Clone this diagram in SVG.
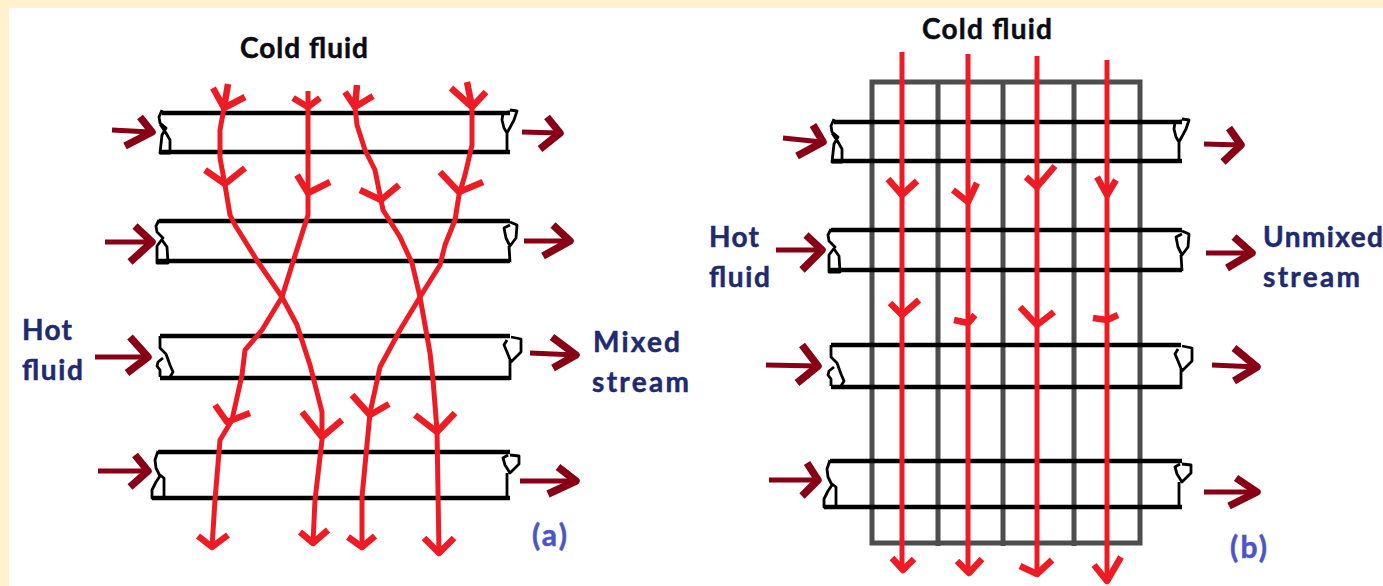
<svg xmlns="http://www.w3.org/2000/svg" xmlns:xlink="http://www.w3.org/1999/xlink" width="1383" height="586" viewBox="0 0 1383 586">
<style>
text{font-family:"Lato","Open Sans","Liberation Sans",sans-serif;font-weight:700;font-size:28px;stroke-width:.5}
.k{fill:#0b0b14;stroke:#0b0b14}.b{fill:#202a70;stroke:#202a70}.l{fill:#4b55c6;stroke:#4b55c6}
.pipe{fill:none;stroke:#000;stroke-width:4.5}
.end{fill:none;stroke:#000;stroke-width:2.8;stroke-linejoin:round}
.grid{fill:none;stroke:#4d4d4d;stroke-width:5}
.red{fill:none;stroke:#ed1c24;stroke-width:5;stroke-linejoin:round}
.redh{fill:none;stroke:#ed1c24;stroke-width:6.5;stroke-linejoin:round}
.dr{fill:none;stroke:#880015;stroke-width:5}
.drh{fill:none;stroke:#880015;stroke-width:7.5;stroke-linejoin:round}
</style>
<defs>
<g id="p1"><path class="pipe" d="M162 113H510M160 152H510"/><path class="end" d="M162 110L159 117L160 123L166 128L162 135L160 153L170 153L170 140L166 133L160 124M510 112L503 113L502 120L504 128L507 133L514 120L517 111L510 110M507 133L507 151"/></g>
<g id="p2"><path class="pipe" d="M159 221H510M157 261H510"/><path class="end" d="M159 220L156 226L157 232L163 238L157 246L157 263L168 263L167 247L162 240M510 222L517 225L516 238L510 246L506 238L504 228L510 225M509 246L510 262"/></g>
<g id="p3"><path class="pipe" d="M160 336H510M160 378H510"/><path class="end" d="M160 336V348L166 354L170 365L173 372L170 377M160 377V370L157 366L158 362L163 358M511 337L521 339L521 352L511 362L507 352L504 345L507 340M510 360V380"/></g>
<g id="p4"><path class="pipe" d="M158 452H510M152 498H510"/><path class="end" d="M158 451L155 460L156 468L160 476L156 482L152 490L152 498L164 498L164 478L160 475M510 455L519 456L519 464L510 473L505 465L503 458L508 455M507 473L507 497"/></g>
</defs>
<rect width="1383" height="586" fill="#fff2cc"/>
<rect x="9" y="8" width="1374" height="578" fill="#fff"/>
<g id="grid-b"><path class="grid" d="M872 82H1140V543H872ZM938 82V546M1003 82V546M1074 82V546"/></g>
<g id="pipes-a">
<use id="pipe-a1" xlink:href="#p1"/><use id="pipe-a2" xlink:href="#p2"/><use id="pipe-a3" xlink:href="#p3"/><use id="pipe-a4" xlink:href="#p4"/>
</g>
<g id="pipes-b">
<use id="pipe-b1" xlink:href="#p1" transform="translate(672 9)"/><use id="pipe-b2" xlink:href="#p2" transform="translate(672 9)"/><use id="pipe-b3" xlink:href="#p3" transform="translate(671 9)"/><use id="pipe-b4" xlink:href="#p4" transform="translate(672 9)"/>
</g>
<g id="connectors">
<g id="cold-a">
<path class="red" d="M224 108L220 130L220 158L225 185L230 215L235 225L258 262L282 297L297 325L310 365L322 412L322 440L315 500L313 543"/>
<path class="redh" d="M213 88L224 108L228 84M224 108L245 97M205 170L225 184L245 168M302 412L322 437L342 420M300 532L313 543L328 530"/>
<path class="red" d="M308 91V190L308 215L300 240L292 265L282 297L262 330L245 350L242 375L232 420L220 440L215 500L212 547"/>
<path class="redh" d="M293 98L308 107L320 98M297 175L308 193L330 182M215 405L227 422L250 413M198 536L212 547L228 535"/>
<path class="red" d="M355 107L357 125L365 150L375 170L381 200L383 210L400 237L412 263L420 297L430 353L433 380L437 430L439 553"/>
<path class="redh" d="M345 92L355 107L357 85M355 107L373 96M360 190L381 200L399 185M415 415L437 432L455 413M424 538L439 553L454 538"/>
<path class="red" d="M472 107V145L465 175L459 195L455 220L445 245L440 265L420 297L400 330L380 367L370 413L362 497L362 547"/>
<path class="redh" d="M451 88L472 107L467 82M472 107L486 92M440 172L459 192L483 182M352 395L370 415L389 404M348 537L362 547L375 536"/>
</g>
<g id="cold-b">
<path class="red" d="M902 52V570M968 54V572M1037 56V574M1107 60V580"/>
<path class="redh" d="M888 179L902 195L917 181M953 190L968 202L977 183M1026 177L1037 187L1055 166M1097 177L1107 195L1116 180"/>
<path class="redh" d="M890 303L902 315L919 300M954 320L968 323L975 315M1020 307L1037 325L1054 312M1093 318L1107 320L1118 315"/>
<path class="redh" d="M892 558L903 570L914 559M957 561L969 573L982 559M1020 566L1037 574L1052 560M1094 565L1107 581L1121 557"/>
</g>
<g id="hot-a">
<path class="dr" d="M112 130L150 132"/><path class="drh" d="M140 117L152 132L125 146"/>
<path class="dr" d="M105 242H150"/><path class="drh" d="M135 226L152 242L130 262"/>
<path class="dr" d="M95 357H148"/><path class="drh" d="M130 337L148 357L127 373"/>
<path class="dr" d="M98 471H148"/><path class="drh" d="M135 455L148 471L130 487"/>
<path class="dr" d="M522 132L560 133"/><path class="drh" d="M547 117L560 133L540 149"/>
<path class="dr" d="M524 241H570"/><path class="drh" d="M553 225L570 241L543 256"/>
<path class="dr" d="M530 353L576 355"/><path class="drh" d="M552 337L576 355L553 368"/>
<path class="dr" d="M520 481H576"/><path class="drh" d="M558 467L576 481L548 494"/>
</g>
<g id="hot-b">
<path class="dr" d="M783 138L822 142"/><path class="drh" d="M813 125L823 142L797 156"/>
<path class="dr" d="M776 250H822"/><path class="drh" d="M806 235L822 250L802 270"/>
<path class="dr" d="M766 365L818 366"/><path class="drh" d="M802 345L818 366L797 383"/>
<path class="dr" d="M769 480H818"/><path class="drh" d="M807 463L818 480L802 496"/>
<path class="dr" d="M1204 144L1241 145"/><path class="drh" d="M1229 128L1241 145L1223 162"/>
<path class="dr" d="M1206 253H1252"/><path class="drh" d="M1234 237L1252 253L1227 268"/>
<path class="dr" d="M1212 365L1257 367"/><path class="drh" d="M1234 348L1257 367L1234 381"/>
<path class="dr" d="M1204 492H1257"/><path class="drh" d="M1236 478L1257 492L1229 506"/>
</g>
</g>
<g id="labels">
<text class="k" x="240" y="58" textLength="128">Cold fluid</text>
<text class="b" x="22" y="340" textLength="50">Hot</text>
<text class="b" x="22" y="380" textLength="61">fluid</text>
<text class="b" x="593" y="352" textLength="87">Mixed</text>
<text class="b" x="592" y="392" textLength="97">stream</text>
<text class="l" x="532" y="546" font-size="30" style="font-size:30px" textLength="35">(a)</text>
<text class="k" x="922" y="39" textLength="130">Cold fluid</text>
<text class="b" x="709" y="247" textLength="50">Hot</text>
<text class="b" x="709" y="287" textLength="61">fluid</text>
<text class="b" x="1263" y="247" textLength="120">Unmixed</text>
<text class="b" x="1263" y="287" textLength="97">stream</text>
<text class="l" x="1230" y="558" style="font-size:30px" textLength="37">(b)</text>
</g>
</svg>
